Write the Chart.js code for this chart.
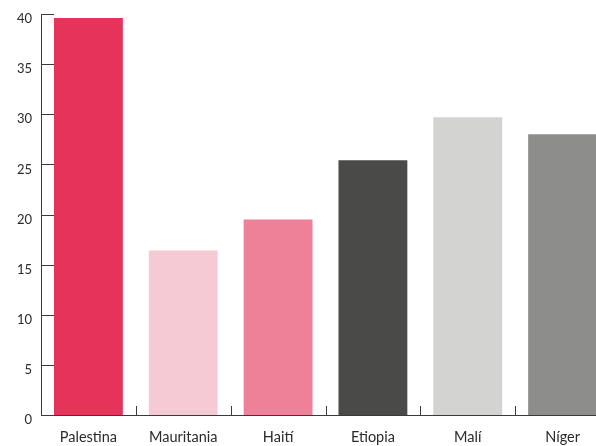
<!DOCTYPE html>
<html>
<head>
<meta charset="utf-8">
<script src="https://cdn.jsdelivr.net/npm/chart.js@4/dist/chart.umd.min.js"></script>
<style>
html,body{margin:0;padding:0;background:#fff;overflow:hidden;width:596px;height:446px;}
#wrap{width:614px;height:446px;position:relative;}
</style>
</head>
<body>
<div id="wrap"><canvas id="c" width="614" height="446"></canvas></div>
<script>
const categories = ["Palestina","Mauritania","Haití","Etiopia","Malí","Níger"];
const values = [39.6, 16.4, 19.5, 25.4, 29.7, 28.0];
const barColors = ["#E5335A","#F6CAD5","#EE8098","#4A4A49","#D3D3D2","#8D8D8C"];
const yTicks = [0,5,10,15,20,25,30,35,40];

const innerTicks = {
  id:'innerTicks',
  afterDatasetsDraw(chart){
    const ctx = chart.ctx, x = chart.scales.x, y = chart.scales.y;
    ctx.save();
    ctx.strokeStyle = '#3a3a3a';
    ctx.lineWidth = 1;
    ctx.beginPath();
    yTicks.forEach(v=>{
      if(v===0) return;
      const py = Math.round(y.getPixelForValue(v))+0.5;
      ctx.moveTo(x.left, py); ctx.lineTo(x.left+13, py);
    });
    for(let i=1;i<categories.length;i++){
      const px = Math.round((x.getPixelForTick(i-1)+x.getPixelForTick(i))/2)+0.5;
      ctx.moveTo(px, y.bottom); ctx.lineTo(px, y.bottom-9);
    }
    ctx.stroke();
    ctx.restore();
  }
};

new Chart(document.getElementById('c'), {
  type:'bar',
  data:{labels:categories, datasets:[{data:values, backgroundColor:barColors, borderWidth:0, categoryPercentage:1, barPercentage:0.726}]},
  options:{
    responsive:false, animation:false,
    layout:{padding:{top:14,right:4,left:0,bottom:0}},
    plugins:{legend:{display:false},tooltip:{enabled:false}},
    scales:{
      x:{
        grid:{display:false,drawTicks:false},
        border:{display:true,color:'#3a3a3a',width:1},
        ticks:{color:'#2a2a2a',font:{family:'Lato',size:14.5},padding:14,maxRotation:0},
        afterFit(s){s.height=31;s.paddingLeft=0;s.paddingRight=0;}
      },
      y:{
        min:0,max:40,
        grid:{display:false,drawTicks:false},
        border:{display:true,color:'#3a3a3a',width:1},
        ticks:{stepSize:5,color:'#2a2a2a',font:{family:'Lato',size:13},padding:9,labelOffset:5},
        afterFit(s){s.width=41;s.paddingTop=0;s.paddingBottom=0;}
      }
    }
  },
  plugins:[innerTicks]
});
</script>
</body>
</html>
